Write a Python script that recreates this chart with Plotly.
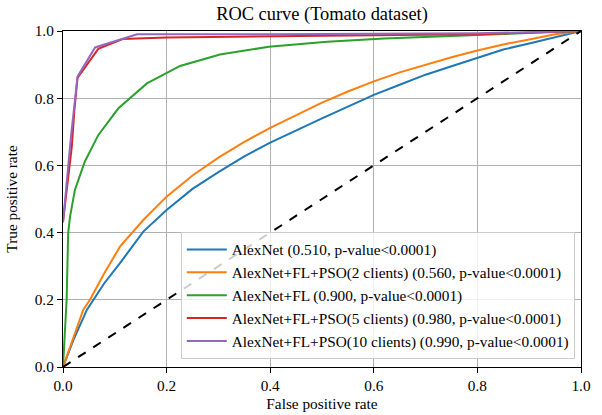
import plotly.graph_objects as go

# ---- data ----
names = [
    "AlexNet (0.510, p-value<0.0001)",
    "AlexNet+FL+PSO(2 clients) (0.560, p-value<0.0001)",
    "AlexNet+FL (0.900, p-value<0.0001)",
    "AlexNet+FL+PSO(5 clients) (0.980, p-value<0.0001)",
    "AlexNet+FL+PSO(10 clients) (0.990, p-value<0.0001)",
]
colors = ["#1f77b4", "#ff7f0e", "#2ca02c", "#d62728", "#9467bd"]

fpr_alex = [0, 0.02, 0.046, 0.08, 0.11, 0.155, 0.2, 0.25, 0.3, 0.35, 0.4, 0.45, 0.5,
            0.55, 0.6, 0.65, 0.7, 0.75, 0.8, 0.85, 0.9, 0.95, 1.0]
tpr_alex = [0, 0.08, 0.17, 0.25, 0.309, 0.403, 0.467, 0.53, 0.58, 0.627, 0.668, 0.705, 0.74,
            0.775, 0.81, 0.84, 0.87, 0.895, 0.92, 0.945, 0.963, 0.982, 1.0]

fpr_pso2 = [0, 0.02, 0.039, 0.052, 0.08, 0.11, 0.155, 0.2, 0.25, 0.3, 0.35, 0.4, 0.45, 0.5,
            0.55, 0.6, 0.65, 0.7, 0.75, 0.8, 0.85, 0.9, 0.95, 1.0]
tpr_pso2 = [0, 0.09, 0.17, 0.2, 0.28, 0.358, 0.4375, 0.507, 0.57, 0.623, 0.67, 0.712, 0.75, 0.787,
            0.82, 0.85, 0.877, 0.9, 0.922, 0.942, 0.96, 0.975, 0.99, 1.0]

fpr_fl = [0, 0.007, 0.01, 0.0135, 0.023, 0.042, 0.068, 0.107, 0.162, 0.226, 0.303, 0.397, 0.51, 0.62, 0.8, 0.9, 1.0]
tpr_fl = [0, 0.2, 0.398, 0.447, 0.527, 0.611, 0.69, 0.77, 0.844, 0.896, 0.93, 0.953, 0.968, 0.978, 0.988, 0.993, 1.0]

fpr_pso5 = [0, 0.017, 0.022, 0.028, 0.068, 0.115, 0.2, 0.3, 0.5, 0.8, 1.0]
tpr_pso5 = [0.432, 0.656, 0.765, 0.86, 0.947, 0.976, 0.981, 0.983, 0.986, 0.99, 1.0]

fpr_pso10 = [0, 0.015, 0.028, 0.062, 0.143, 0.4, 0.8, 1.0]
tpr_pso10 = [0.43, 0.68, 0.864, 0.951, 0.99, 0.99, 0.993, 1.0]

diag = [0, 1]

series_x = [fpr_alex, fpr_pso2, fpr_fl, fpr_pso5, fpr_pso10]
series_y = [tpr_alex, tpr_pso2, tpr_fl, tpr_pso5, tpr_pso10]

FONT = "Liberation Serif"

fig = go.Figure()
for i, (xs, ys) in enumerate(zip(series_x, series_y)):
    fig.add_trace(go.Scatter(
        x=xs, y=ys, mode="lines", name=names[i],
        line=dict(color=colors[i], width=2),
        legendgroup=str(i),
    ))
fig.add_trace(go.Scatter(
    x=diag, y=diag, mode="lines", showlegend=False,
    line=dict(color="black", width=2, dash="dash"),
))

axis_common = dict(
    range=[0, 1], dtick=0.2, tick0=0, tickformat=".1f",
    showgrid=True, gridcolor="#b0b0b0", gridwidth=1,
    showline=True, linecolor="black", linewidth=1.2, mirror=True,
    ticks="outside", ticklen=5, tickcolor="black", tickwidth=1,
    zeroline=False, automargin=False,
    tickfont=dict(family=FONT, size=15.3, color="black"),
)

fig.update_layout(
    width=602, height=415,
    margin=dict(l=63, r=21, t=31, b=48),
    paper_bgcolor="white", plot_bgcolor="white",
    font=dict(family=FONT, size=15.3, color="black"),
    title=dict(text="ROC curve (Tomato dataset)", x=0.5, xref="paper",
               y=1 - 14 / 415, yref="container", yanchor="middle",
               font=dict(family=FONT, size=18.4, color="black")),
    xaxis=dict(axis_common, title=dict(text="False positive rate", standoff=4,
                                        font=dict(family=FONT, size=15.3))),
    yaxis=dict(axis_common, title=dict(text="True positive rate", standoff=13,
                                        font=dict(family=FONT, size=15.3))),
    legend=dict(
        x=0.988, y=0.024, xanchor="right", yanchor="bottom",
        bgcolor="rgba(255,255,255,0.8)", bordercolor="#cccccc", borderwidth=1,
        font=dict(family=FONT, size=15.3), traceorder="grouped", tracegroupgap=0,
        itemwidth=40,
    ),
    showlegend=True,
)

fig.write_html("out.html")
